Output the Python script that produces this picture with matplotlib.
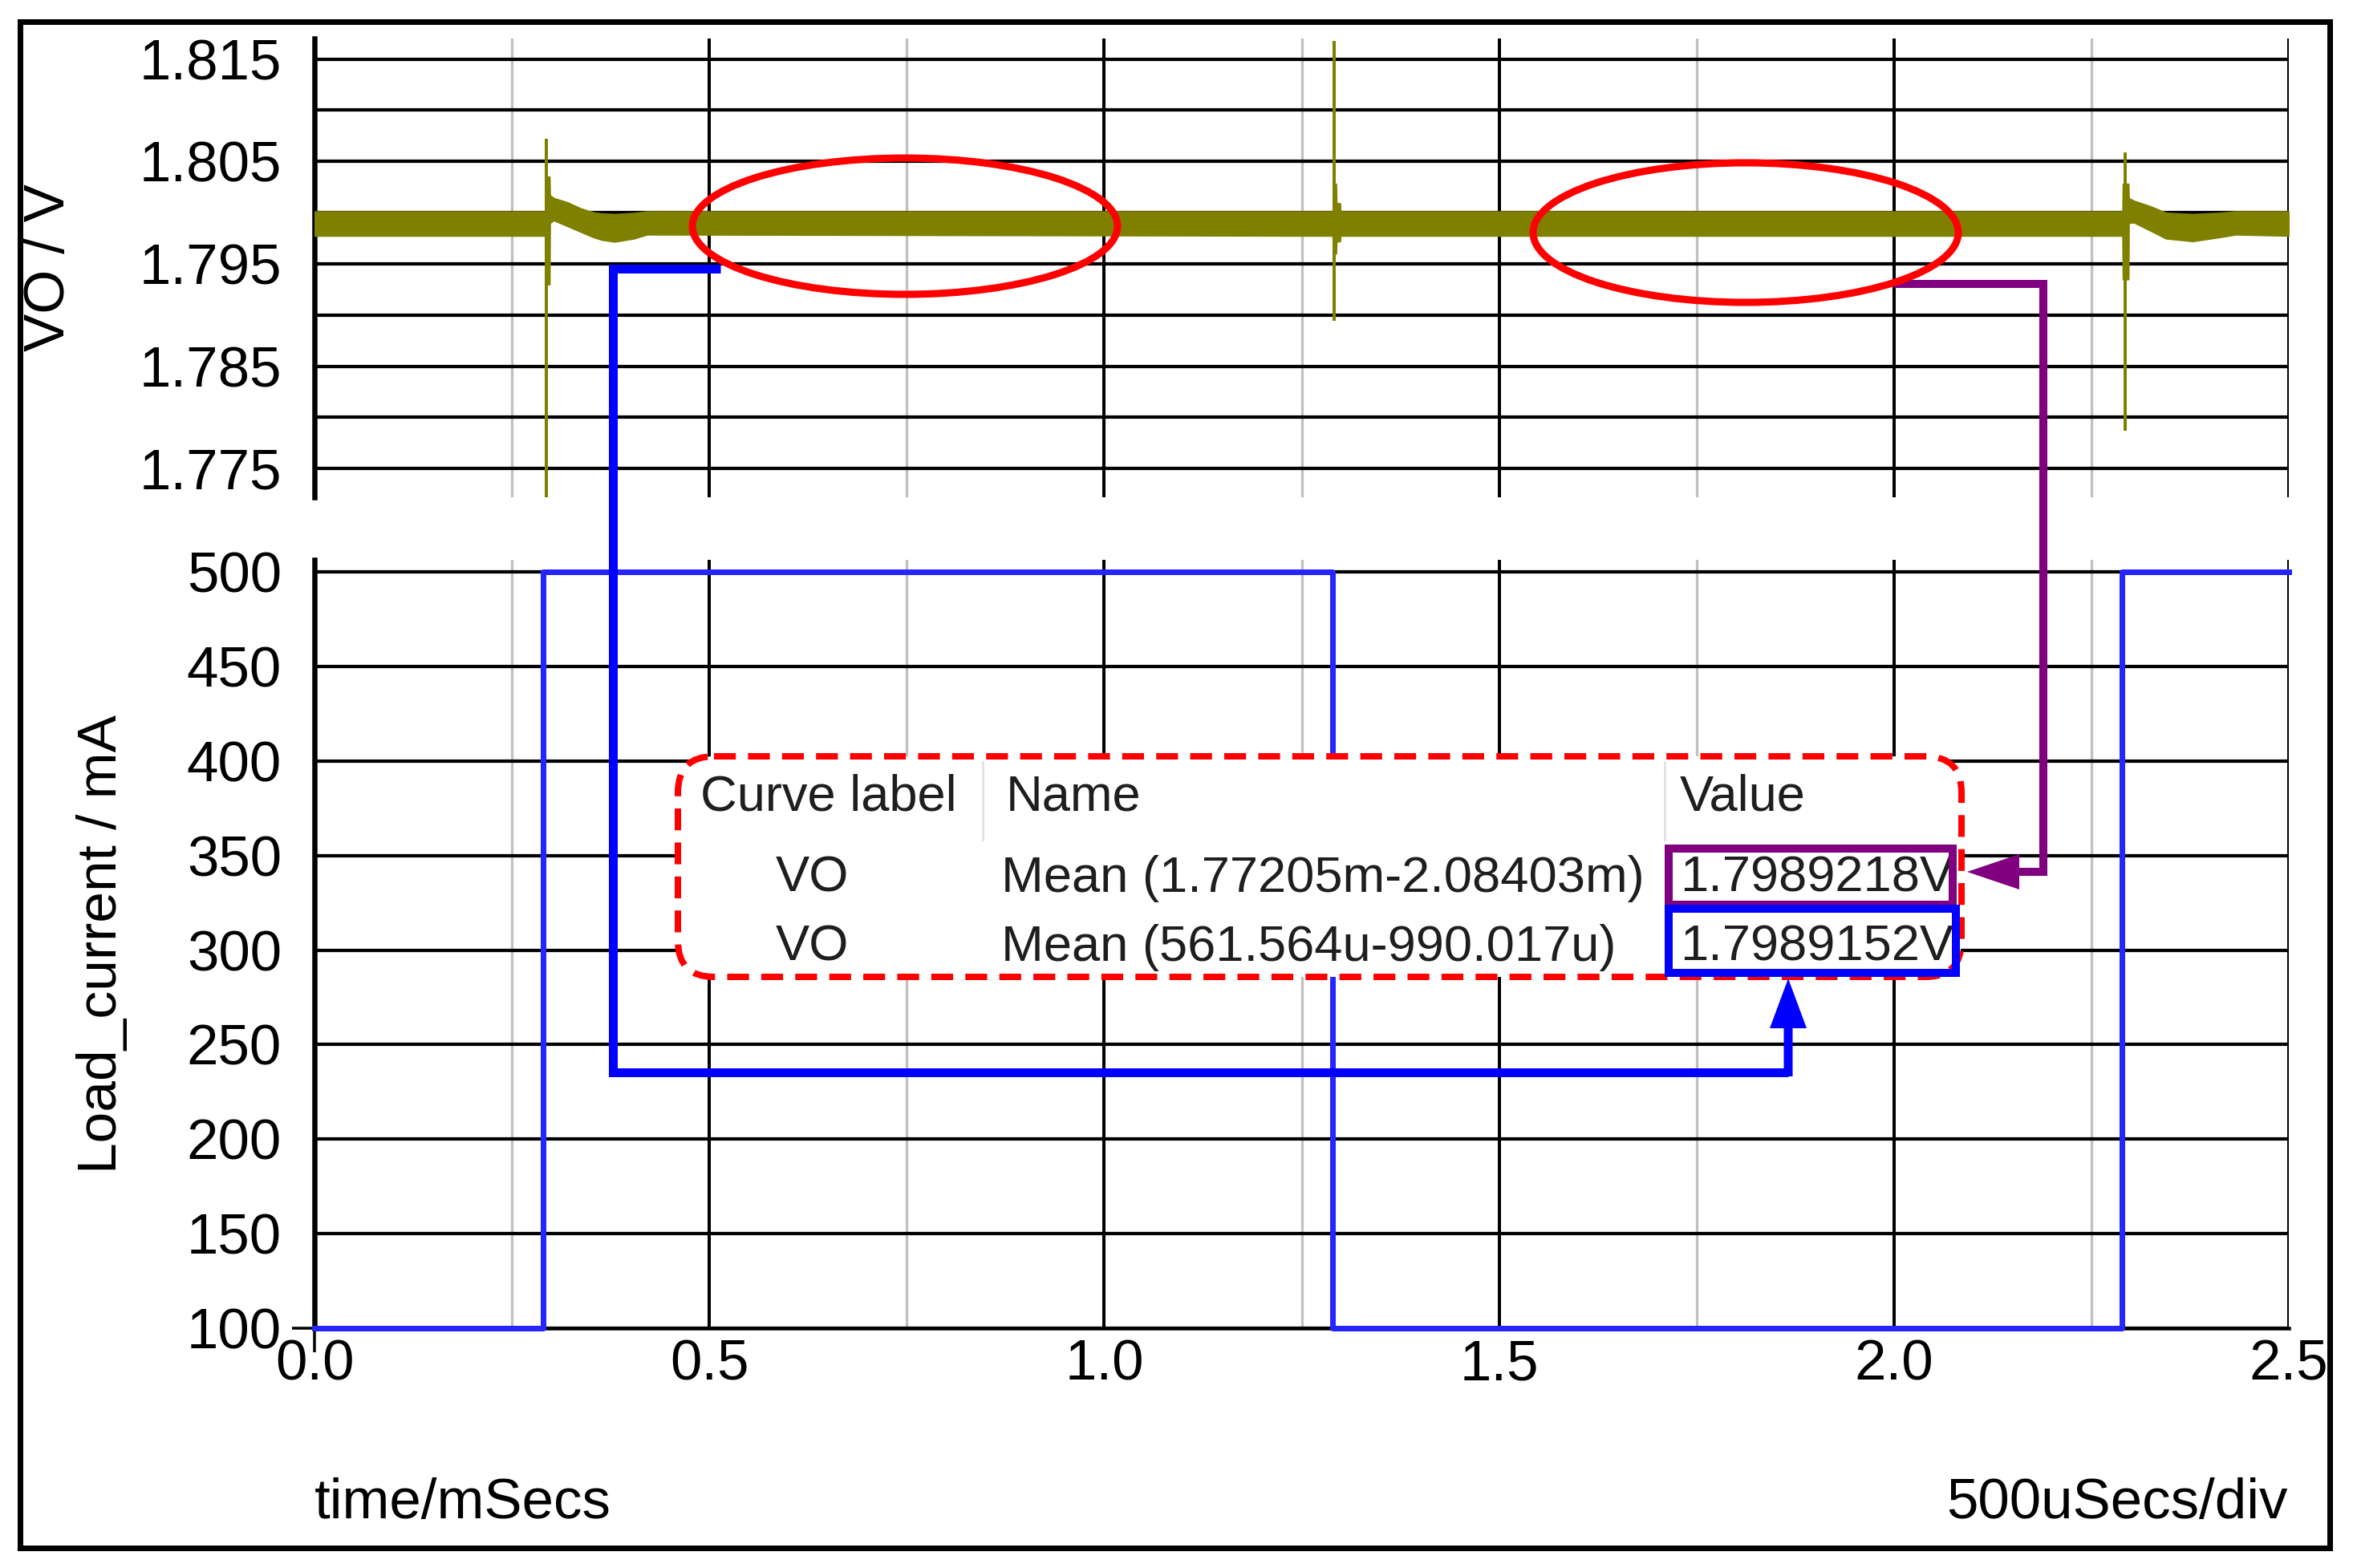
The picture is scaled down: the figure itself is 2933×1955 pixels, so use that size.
import matplotlib
matplotlib.use('Agg')
import matplotlib.pyplot as plt
from matplotlib.patches import Ellipse, FancyBboxPatch, Rectangle, FancyArrow
from matplotlib.ticker import FixedLocator, FormatStrFormatter

plt.rcParams['font.family'] = ['Liberation Sans', 'DejaVu Sans']

# ---------------- data ----------------
# VO ripple band envelope (upper / lower edge), time in ms
vo_t  = [0.0000, 0.2920, 0.2926, 0.2975, 0.2980, 0.3030, 0.3200, 0.3370, 0.3535,
         0.3636, 0.3800, 0.4043, 0.4210, 1.2895, 1.2898, 1.2935, 1.2940, 1.2985,
         1.2990, 2.2895, 2.2900, 2.2968, 2.2972, 2.3039, 2.3242, 2.3445, 2.3784,
         2.4123, 2.4326, 2.5000]
vo_hi = [1.8001, 1.8001, 1.8035, 1.8035, 1.8017, 1.8014, 1.8010, 1.8004, 1.8000,
         1.7999, 1.79984, 1.79995, 1.8001, 1.8001, 1.8028, 1.8028, 1.8009, 1.8009,
         1.8001, 1.8001, 1.8028, 1.8028, 1.8014, 1.80114, 1.80062, 1.79997, 1.79984,
         1.79997, 1.8001, 1.8001]
vo_lo = [1.79775, 1.79775, 1.7930, 1.7930, 1.7990, 1.79926, 1.7987, 1.79814, 1.7976,
         1.79736, 1.79717, 1.79748, 1.79787, 1.79775, 1.7960, 1.7960, 1.7972, 1.7972,
         1.79775, 1.79775, 1.7935, 1.7935, 1.7990, 1.79905, 1.79827, 1.79748, 1.79722,
         1.79761, 1.79787, 1.79775]
# switching spikes on VO
spike_t  = [0.2936, 1.2907, 2.2925]
spike_hi = [1.8072, 1.8168, 1.8059]
spike_lo = [1.7700, 1.7894, 1.7787]
# load current steps
load_t  = [0.0, 0.2898, 1.2895, 2.2887, 2.5]
load_mA = [100, 500, 100, 500, 500]

vo_ticks    = [1.775, 1.785, 1.795, 1.805, 1.815]
vo_minor    = [1.780, 1.790, 1.800, 1.810]
load_ticks  = [100, 150, 200, 250, 300, 350, 400, 450, 500]
time_ticks  = [0.0, 0.5, 1.0, 1.5, 2.0, 2.5]
time_minor  = [0.25, 0.75, 1.25, 1.75, 2.25]

table_header = ["Curve label", "Name", "Value"]
table_curves = ["VO", "VO"]
table_names  = ["Mean (1.77205m-2.08403m)", "Mean (561.564u-990.017u)"]
table_values = ["1.7989218V", "1.7989152V"]

# ---------------- figure ----------------
W, H = 2933, 1955
DPI = 100
PX = 72.0 / DPI  # points per pixel

fig = plt.figure(figsize=(W / DPI, H / DPI), dpi=DPI)
fig.patch.set_facecolor('white')


def frac(l, t, r, b):
    return [l / W, 1 - b / H, (r - l) / W, (b - t) / H]


ax1 = fig.add_axes(frac(392, 48, 2853, 620))
ax2 = fig.add_axes(frac(392, 698, 2853, 1656))

OLIVE = '#808000'
TICK_FS = 51

for ax in (ax1, ax2):
    ax.set_xlim(0, 2.5)
    ax.xaxis.set_major_locator(FixedLocator(time_ticks))
    ax.xaxis.set_minor_locator(FixedLocator(time_minor))
    ax.xaxis.set_major_formatter(FormatStrFormatter('%.1f'))
    ax.grid(which='major', axis='x', color='black', lw=4 * PX)
    ax.grid(which='minor', axis='x', color='#c0c0c0', lw=3.2 * PX)
    ax.set_axisbelow(True)
    for s in ('top', 'right', 'bottom'):
        ax.spines[s].set_visible(False)
    ax.spines['left'].set_linewidth(6.5 * PX)
    ax.tick_params(which='both', length=0, labelsize=TICK_FS)
    ax.tick_params(axis='y', pad=29.5)
    ax.tick_params(axis='x', pad=10)

# ----- top panel: VO -----
ax1.set_ylim(1.7722, 1.8170)
ax1.yaxis.set_major_locator(FixedLocator(vo_ticks))
ax1.yaxis.set_minor_locator(FixedLocator(vo_minor))
ax1.yaxis.set_major_formatter(FormatStrFormatter('%.3f'))
ax1.grid(which='both', axis='y', color='black', lw=4.2 * PX)
ax1.tick_params(axis='x', labelbottom=False)
ax1.fill_between(vo_t, vo_lo, vo_hi, facecolor=OLIVE, edgecolor=OLIVE,
                 lw=2 * PX, zorder=3)
ax1.vlines(spike_t, spike_lo, spike_hi, color=OLIVE, lw=4 * PX, zorder=3)
ax1.set_ylabel('VO / V', fontsize=TICK_FS, va='center')
ax1.yaxis.set_label_coords((62 - 392) / 2461, 0.5)

# ----- bottom panel: load current -----
ax2.set_ylim(100, 506.4)
ax2.yaxis.set_major_locator(FixedLocator(load_ticks))
ax2.grid(which='major', axis='y', color='black', lw=4.2 * PX)
ax2.spines['bottom'].set_visible(True)
ax2.spines['bottom'].set_linewidth(4.5 * PX)
ax2.plot(load_t, load_mA, drawstyle='steps-post', color='#2525ff',
         lw=7 * PX, zorder=3, clip_on=False)
ax2.set_ylabel('Load_current / mA', fontsize=50, va='center')
ax2.yaxis.set_label_coords((127 - 392) / 2461, 0.5)

# little cross at the origin
xt = ax2.xaxis.get_major_ticks()
yt = ax2.yaxis.get_major_ticks()
xt[0].tick1line.set_markersize(30 * PX)
xt[0].tick1line.set_markeredgewidth(3.5 * PX)
yt[0].tick1line.set_markersize(28 * PX)
yt[0].tick1line.set_markeredgewidth(3.5 * PX)

fig.text(392 / W, 1 - 1893 / H, 'time/mSecs', fontsize=TICK_FS,
         ha='left', va='baseline')
fig.text(2852 / W, 1 - 1893 / H, '500uSecs/div', fontsize=TICK_FS,
         ha='right', va='baseline')

# ---------------- overlay (annotations, pixel coordinates) ----------------
ov = fig.add_axes([0, 0, 1, 1], zorder=10)
ov.set_xlim(0, W)
ov.set_ylim(H, 0)
ov.axis('off')
ov.patch.set_alpha(0)

# outer frame
ov.add_patch(Rectangle((25, 27), 2879, 1903, fill=False, ec='black', lw=7 * PX))

# measurement table
ov.add_patch(FancyBboxPatch((845, 943), 1600, 275,
                            boxstyle='round,pad=0,rounding_size=45',
                            fc='white', ec='#ff0000', lw=8 * PX,
                            ls=(0, (3.4, 1.9)), zorder=2))
for xs in (1225, 2075):
    ov.plot([xs, xs], [950, 1047], color='#e3e3e3', lw=3 * PX, zorder=3)

TXT = '#1e1e1e'
TFS = 45.5
for label, x in zip(table_header, (873, 1254, 2094)):
    ov.text(x, 1010, label, fontsize=TFS, color=TXT, ha='left', va='baseline', zorder=4)
for cur, name, val, yb in zip(table_curves, table_names, table_values, (1112, 1198)):
    ov.text(1012, yb, cur, fontsize=TFS, color=TXT, ha='center', va='baseline', zorder=4)
    ov.text(1248, yb, name, fontsize=TFS, color=TXT, ha='left', va='baseline', zorder=4)
    ov.text(2094, yb, val, fontsize=TFS, color=TXT, ha='left', va='baseline', zorder=4)

PURPLE = '#800080'
BLUE = '#0000ff'
ov.add_patch(Rectangle((2080, 1058), 354, 70, fill=False, ec=PURPLE, lw=10 * PX, zorder=5))
ov.add_patch(Rectangle((2080, 1133), 358, 80, fill=False, ec=BLUE, lw=10 * PX, zorder=6))

# connectors
ov.plot([898, 764, 764, 2229], [335, 335, 1337, 1337], color=BLUE, lw=11 * PX,
        solid_joinstyle='miter', solid_capstyle='butt', zorder=6)
ov.add_patch(FancyArrow(2229, 1342, 0, -122, width=11, head_width=46,
                        head_length=62, length_includes_head=True,
                        color=BLUE, lw=0, zorder=6))
ov.plot([2361, 2547, 2547], [354, 354, 1087], color=PURPLE, lw=10 * PX,
        solid_joinstyle='miter', solid_capstyle='butt', zorder=6)
ov.add_patch(FancyArrow(2552, 1087, -100, 0, width=10, head_width=44,
                        head_length=65, length_includes_head=True,
                        color=PURPLE, lw=0, zorder=6))

# highlight ellipses
ov.add_patch(Ellipse((1128, 282), 530, 170, fill=False, ec='#ff0000', lw=9 * PX, zorder=7))
ov.add_patch(Ellipse((2176, 290), 530, 174, fill=False, ec='#ff0000', lw=9 * PX, zorder=7))

fig.savefig('out.png', dpi=DPI, facecolor='white')
